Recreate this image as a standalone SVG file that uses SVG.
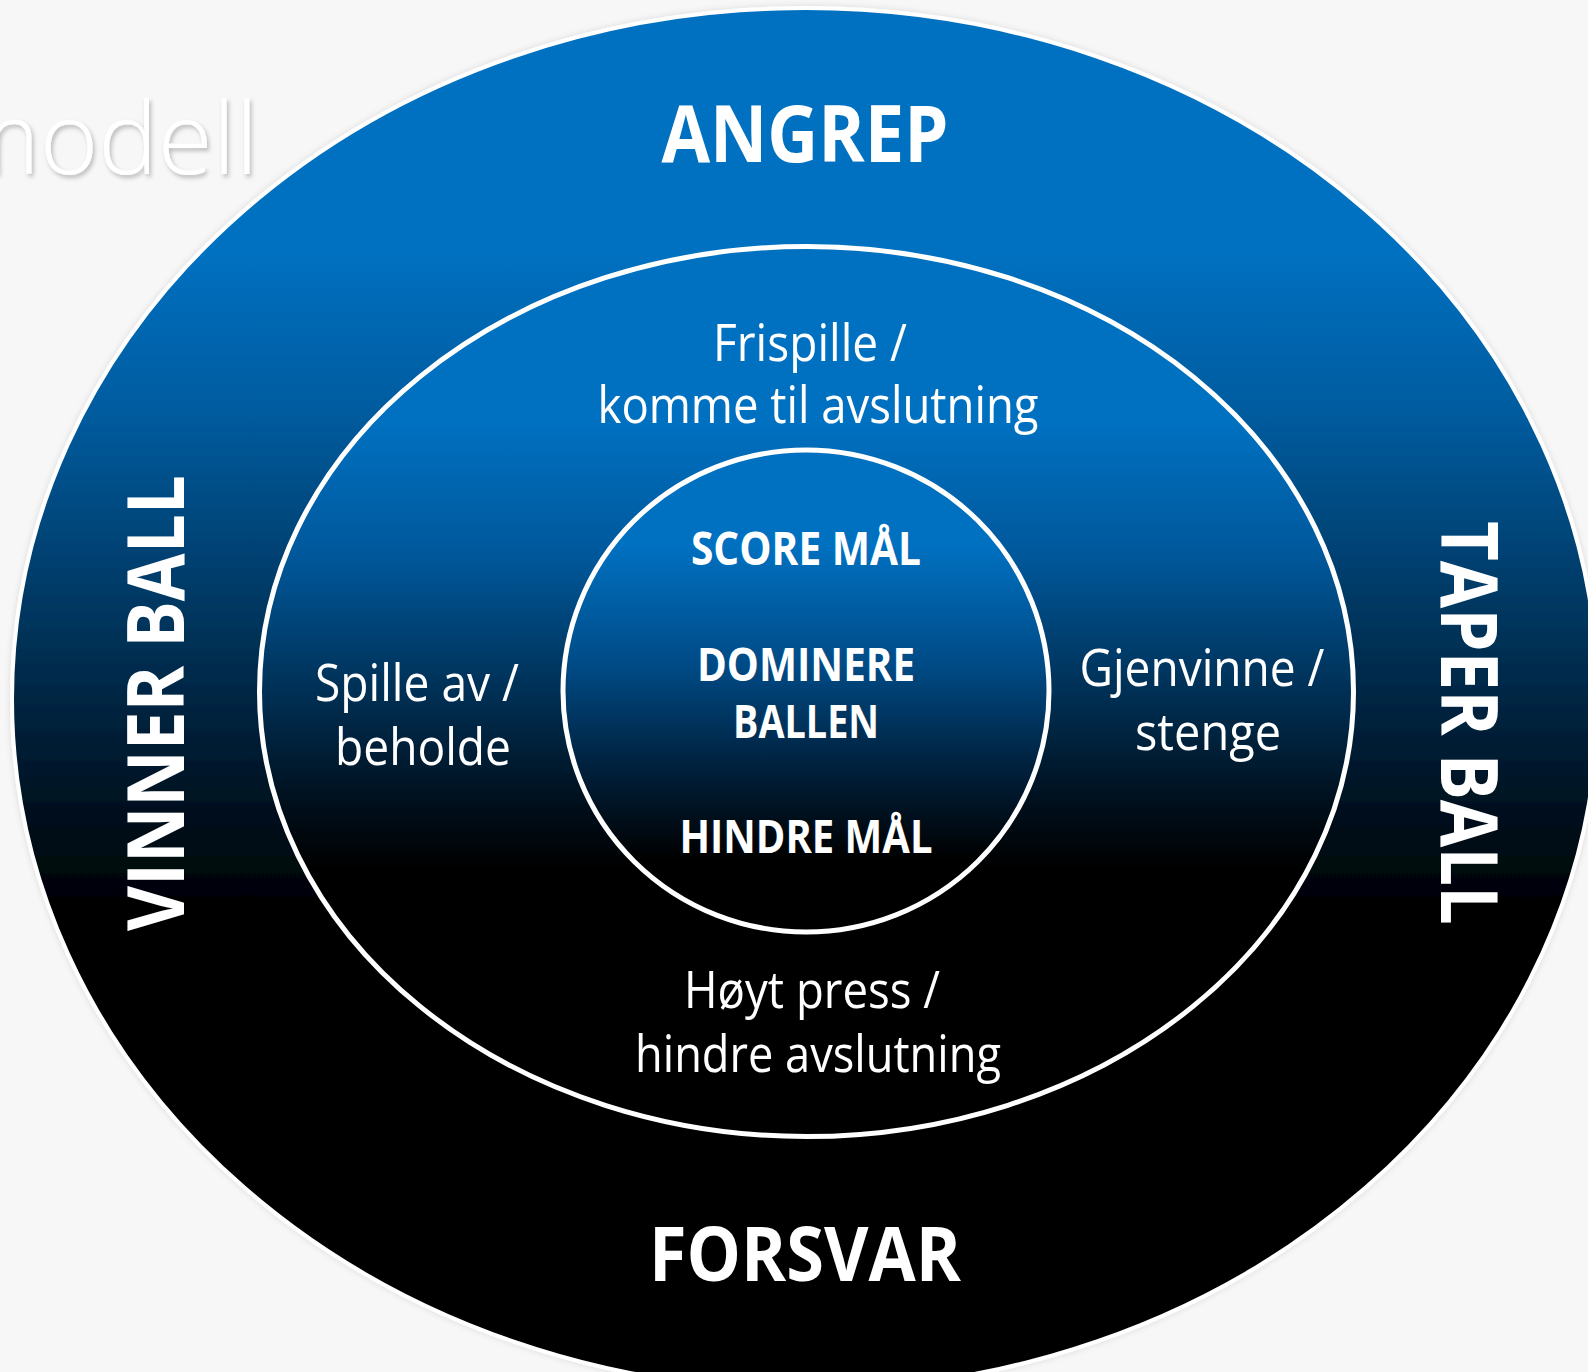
<svg xmlns="http://www.w3.org/2000/svg" width="1588" height="1372" viewBox="0 0 1588 1372">
  <defs>
    <linearGradient id="gOuter" x1="0" y1="0" x2="0" y2="1">
      <stop offset="0" stop-color="#0070C0"/>
      <stop offset="0.18" stop-color="#0070C0"/>
      <stop offset="0.3" stop-color="#005a9c"/>
      <stop offset="0.45" stop-color="#00335a"/>
      <stop offset="0.58" stop-color="#00101e"/>
      <stop offset="0.66" stop-color="#000000"/>
      <stop offset="1" stop-color="#000000"/>
    </linearGradient>
    <linearGradient id="gMid" x1="0" y1="0" x2="0" y2="1">
      <stop offset="0" stop-color="#0070C0"/>
      <stop offset="0.2" stop-color="#0070C0"/>
      <stop offset="0.35" stop-color="#00579a"/>
      <stop offset="0.5" stop-color="#003055"/>
      <stop offset="0.63" stop-color="#000e1a"/>
      <stop offset="0.7" stop-color="#000000"/>
      <stop offset="1" stop-color="#000000"/>
    </linearGradient>
    <linearGradient id="gInner" x1="0" y1="0" x2="0" y2="1">
      <stop offset="0" stop-color="#0070C0"/>
      <stop offset="0.2" stop-color="#0070C0"/>
      <stop offset="0.45" stop-color="#004a85"/>
      <stop offset="0.65" stop-color="#00223f"/>
      <stop offset="0.85" stop-color="#000000"/>
      <stop offset="1" stop-color="#000000"/>
    </linearGradient>
    <filter id="shadow" x="-20%" y="-20%" width="140%" height="140%">
      <feDropShadow dx="2" dy="3" stdDeviation="2" flood-color="#000" flood-opacity="0.25"/>
    </filter>
    <filter id="softShadow" x="-5%" y="-5%" width="110%" height="110%">
      <feDropShadow dx="0" dy="0" stdDeviation="3" flood-color="#000" flood-opacity="0.12"/>
    </filter>
  </defs>
  <style>
    .bold { font-family: "Open Sans", "Noto Sans", "Liberation Sans", sans-serif; font-weight: 700; fill: #ffffff; }
    .reg { font-family: "Open Sans", "Noto Sans", "Liberation Sans", sans-serif; font-weight: 400; fill: #ffffff; }
    .ring { stroke: #ffffff; stroke-width: 5; }
  </style>
  <rect x="0" y="0" width="1588" height="1372" fill="#f7f7f7"/>

  <text x="258" y="174" text-anchor="end" font-family="'Open Sans', 'Noto Sans', sans-serif" font-weight="300" font-size="100" fill="#ffffff" filter="url(#shadow)">modell</text>

  <g id="outer">
    <ellipse cx="805" cy="699" rx="793" ry="691" fill="url(#gOuter)" stroke="#ffffff" stroke-width="4" filter="url(#softShadow)"/>
    <text class="bold" x="805" y="162" text-anchor="middle" font-size="78" textLength="287" lengthAdjust="spacingAndGlyphs">ANGREP</text>
    <text class="bold" x="805" y="1281" text-anchor="middle" font-size="76" textLength="312" lengthAdjust="spacingAndGlyphs">FORSVAR</text>
    <text class="bold" transform="translate(184 703) rotate(-90)" x="0" y="0" text-anchor="middle" font-size="78" textLength="456" lengthAdjust="spacingAndGlyphs">VINNER BALL</text>
    <text class="bold" transform="translate(1441 723) rotate(90)" x="0" y="0" text-anchor="middle" font-size="78" textLength="404" lengthAdjust="spacingAndGlyphs">TAPER BALL</text>
  </g>

  <g id="middle">
    <ellipse class="ring" cx="806.5" cy="691.5" rx="547" ry="445" fill="url(#gMid)"/>
    <text class="reg" x="810" y="361" text-anchor="middle" font-size="52" textLength="194" lengthAdjust="spacingAndGlyphs">Frispille /</text>
    <text class="reg" x="818" y="423" text-anchor="middle" font-size="52" textLength="441" lengthAdjust="spacingAndGlyphs">komme til avslutning</text>
    <text class="reg" x="417" y="701" text-anchor="middle" font-size="52" textLength="204" lengthAdjust="spacingAndGlyphs">Spille av /</text>
    <text class="reg" x="423" y="765" text-anchor="middle" font-size="52" textLength="176" lengthAdjust="spacingAndGlyphs">beholde</text>
    <text class="reg" x="1202" y="686" text-anchor="middle" font-size="52" textLength="245" lengthAdjust="spacingAndGlyphs">Gjenvinne /</text>
    <text class="reg" x="1208" y="750" text-anchor="middle" font-size="52" textLength="146" lengthAdjust="spacingAndGlyphs">stenge</text>
    <text class="reg" x="812" y="1008" text-anchor="middle" font-size="52" textLength="256" lengthAdjust="spacingAndGlyphs">Høyt press /</text>
    <text class="reg" x="818" y="1072" text-anchor="middle" font-size="52" textLength="366" lengthAdjust="spacingAndGlyphs">hindre avslutning</text>
  </g>

  <g id="inner">
    <ellipse class="ring" cx="806" cy="691" rx="243" ry="241" fill="url(#gInner)"/>
    <text class="bold" x="806" y="565" text-anchor="middle" font-size="46" textLength="230" lengthAdjust="spacingAndGlyphs">SCORE MÅL</text>
    <text class="bold" x="806" y="681" text-anchor="middle" font-size="46" textLength="218" lengthAdjust="spacingAndGlyphs">DOMINERE</text>
    <text class="bold" x="806" y="738" text-anchor="middle" font-size="46" textLength="146" lengthAdjust="spacingAndGlyphs">BALLEN</text>
    <text class="bold" x="806" y="853" text-anchor="middle" font-size="46" textLength="253" lengthAdjust="spacingAndGlyphs">HINDRE MÅL</text>
  </g>

  <g id="connectors"/>
</svg>
